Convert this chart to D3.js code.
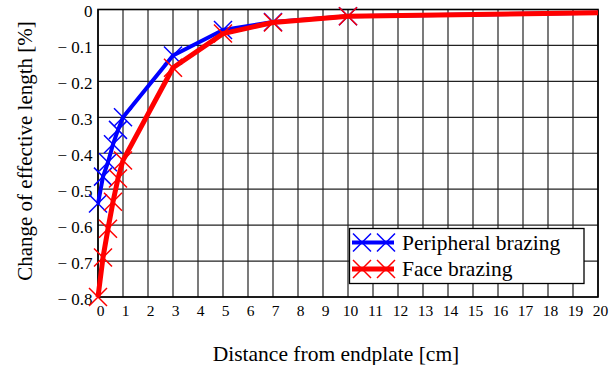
<!DOCTYPE html>
<html><head><meta charset="utf-8">
<script src="https://cdn.jsdelivr.net/npm/d3@7"></script>
<style>body{margin:0;background:#fff}svg{display:block}</style>
</head><body><svg id="c" width="616" height="365"></svg>
<script>
const xTicks = d3.range(0, 21, 1);
const yTicks = [0, -0.1, -0.2, -0.3, -0.4, -0.5, -0.6, -0.7, -0.8];
const peripheralX = [0, 0.2, 0.4, 0.6, 0.8, 1, 3, 5, 7, 10, 20];
const peripheralY = [-0.54, -0.465, -0.425, -0.375, -0.335, -0.30, -0.128, -0.057, -0.035, -0.019, -0.009];
const faceX = [0, 0.2, 0.4, 0.6, 0.8, 1, 3, 5, 7, 10, 20];
const faceY = [-0.80, -0.69, -0.61, -0.535, -0.47, -0.42, -0.162, -0.067, -0.036, -0.019, -0.009];
const seriesNames = ["Peripheral brazing", "Face brazing"];
const seriesColors = ["#0000ff", "#ff0000"];
const markerX = [[0,0.2,0.4,0.6,0.8,1,3,5,7,10],[0,0.2,0.4,0.6,0.8,1,3,5,7,10]];

const FONT = "'Liberation Serif', 'Times New Roman', Times, serif";
const svg = d3.select("#c");
const m = {l: 98, r: 598, t: 9.5, b: 297};
const x = d3.scaleLinear().domain([0, 20]).range([m.l, m.r]);
const y = d3.scaleLinear().domain([-0.8, 0]).range([m.b, m.t]);

const g = svg.append("g");
g.selectAll("line.v").data(xTicks).join("line")
  .attr("x1", d => x(d)).attr("x2", d => x(d)).attr("y1", m.t).attr("y2", m.b)
  .attr("stroke", "#222").attr("stroke-width", 1.2);
g.selectAll("line.h").data(yTicks).join("line")
  .attr("y1", d => y(d)).attr("y2", d => y(d)).attr("x1", m.l).attr("x2", m.r)
  .attr("stroke", "#222").attr("stroke-width", 1.2);
svg.append("rect").attr("x", m.l).attr("y", m.t).attr("width", m.r - m.l).attr("height", m.b - m.t)
  .attr("fill", "none").attr("stroke", "#000").attr("stroke-width", 1.6);

const xAxis = svg.append("g").attr("transform", `translate(2,${m.b})`)
  .call(d3.axisBottom(x).tickValues(xTicks).tickSize(0).tickPadding(8).tickFormat(d3.format("d")));
xAxis.attr("font-family", null).attr("font-size", null);
xAxis.select(".domain").remove();
xAxis.selectAll("text").style("font-family", FONT).style("font-size", "15.5px").attr("fill", "#000");
const yAxis = svg.append("g").attr("transform", `translate(${m.l},2)`)
  .call(d3.axisLeft(y).tickValues(yTicks).tickSize(0).tickPadding(5.5)
    .tickFormat(d => d === 0 ? "0" : "\u2212 " + d3.format(".1f")(-d)));
yAxis.attr("font-family", null).attr("font-size", null);
yAxis.select(".domain").remove();
yAxis.selectAll("text").style("font-family", FONT).style("font-size", "17px").attr("fill", "#000");

svg.append("text").attr("x", 336).attr("y", 361).attr("text-anchor", "middle")
  .style("font-family", FONT).style("font-size", "21.5px").text("Distance from endplate [cm]");
svg.append("text").attr("transform", "translate(32,151) rotate(-90)").attr("text-anchor", "middle")
  .style("font-family", FONT).style("font-size", "21px").text("Change of effective length [%]");

const series = [
  {name: seriesNames[0], color: seriesColors[0], xs: peripheralX, ys: peripheralY, w: 4},
  {name: seriesNames[1], color: seriesColors[1], xs: faceX, ys: faceY, w: 5}
];
const line = d3.line().x(d => x(d[0])).y(d => y(d[1]));
const ms = 9;
function cross(sel, cx, cy, color) {
  sel.append("path").attr("d", `M${cx-ms},${cy-ms}L${cx+ms},${cy+ms}M${cx-ms},${cy+ms}L${cx+ms},${cy-ms}`)
    .attr("stroke", color).attr("stroke-width", 1.5).attr("fill", "none");
}
const plot = svg.append("g");
series.forEach((s, i) => {
  const pts = s.xs.map((v, j) => [v, s.ys[j]]);
  plot.append("path").datum(pts).attr("d", line).attr("fill", "none").attr("stroke", s.color)
    .attr("stroke-width", s.w).attr("stroke-linejoin", "round");
  pts.forEach(p => { if (markerX[i].includes(p[0])) cross(plot, x(p[0]), y(p[1]), s.color); });
});

const lg = svg.append("g");
lg.append("rect").attr("x", 349.5).attr("y", 228.5).attr("width", 234.5).attr("height", 55)
  .attr("fill", "#fff").attr("stroke", "#000").attr("stroke-width", 1.3);
series.forEach((s, i) => {
  const ly = 242.5 + i * 26.5;
  lg.append("line").attr("x1", 352).attr("x2", 394).attr("y1", ly).attr("y2", ly)
    .attr("stroke", s.color).attr("stroke-width", s.w);
  cross(lg, 362, ly, s.color);
  cross(lg, 386, ly, s.color);
  lg.append("text").attr("x", 402).attr("y", ly + 7).style("font-family", FONT).style("font-size", "21.5px").text(s.name);
});
</script></body></html>
